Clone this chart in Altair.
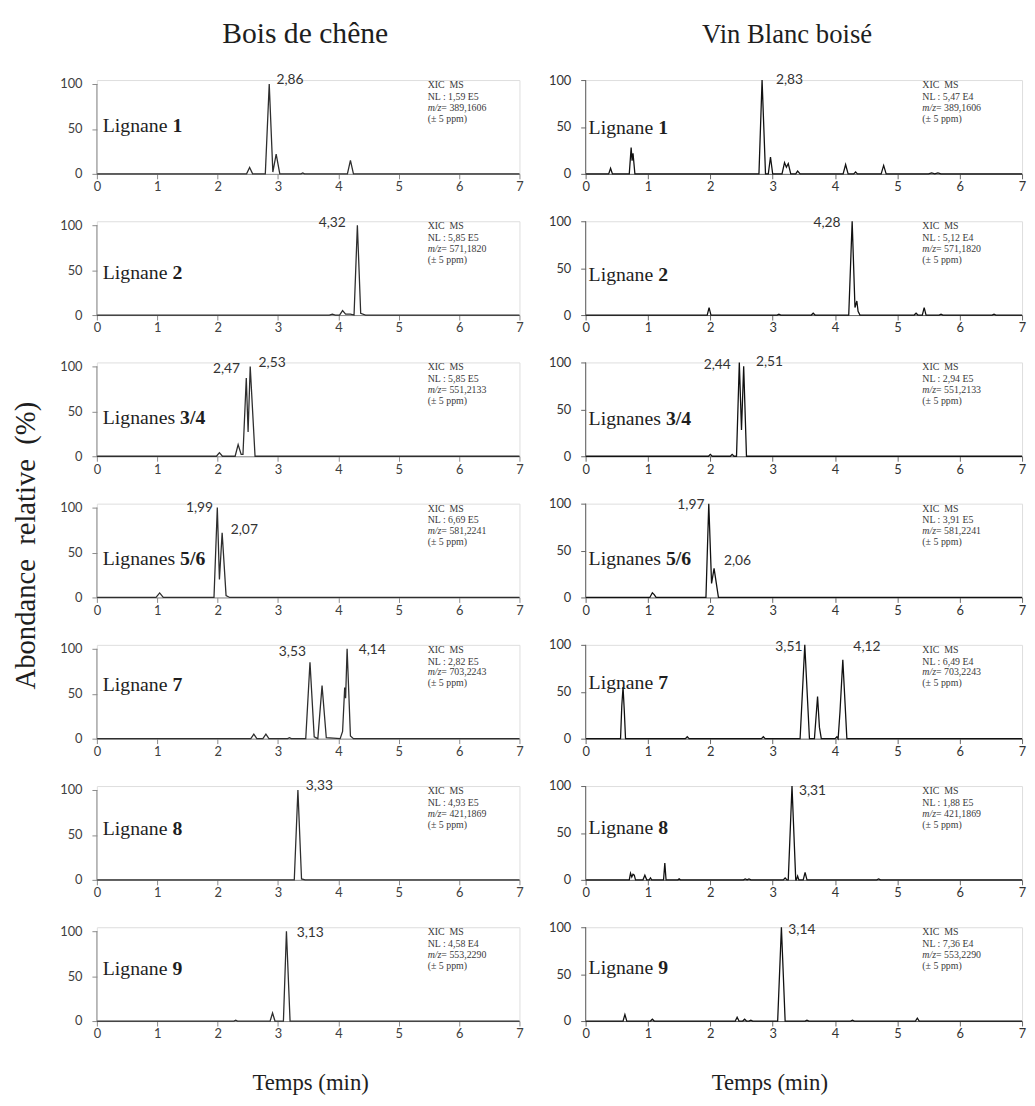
import altair as alt
import pandas as pd

# ---------------- data ----------------
x_ticks = [0, 1, 2, 3, 4, 5, 6, 7]
y_ticks = [0, 50, 100]

column_titles = ["Bois de chêne", "Vin Blanc boisé"]
y_title = "Abondance\u00a0 relative\u00a0 (%)"
x_title = "Temps (min)"

name_prefix = ["Lignane", "Lignane", "Lignanes", "Lignanes", "Lignane", "Lignane", "Lignane"]
name_number = ["1", "2", "3/4", "5/6", "7", "8", "9"]
mz_values = ["389,1606", "571,1820", "551,2133", "581,2241", "703,2243", "421,1869", "553,2290"]
nl_bois = ["1,59 E5", "5,85 E5", "5,85 E5", "6,69 E5", "2,82 E5", "4,93 E5", "4,58 E4"]
nl_vin = ["5,47 E4", "5,12 E4", "2,94 E5", "3,91 E5", "6,49 E4", "1,88 E5", "7,36 E4"]

peaks_bois = [["2,86"], ["4,32"], ["2,47", "2,53"], ["1,99", "2,07"], ["3,53", "4,14"], ["3,33"], ["3,13"]]
peaks_vin = [["2,83"], ["4,28"], ["2,44", "2,51"], ["1,97", "2,06"], ["3,51", "4,12"], ["3,31"], ["3,14"]]

# traces: (time in min, relative abundance in %)
bois_1 = [(0, 0), (2.48, 0), (2.53, 7), (2.58, 0), (2.79, 0), (2.855, 100), (2.915, 2), (2.97, 22), (3.03, 0),
          (3.38, 0), (3.41, 1), (3.44, 0), (4.15, 0), (4.2, 15), (4.25, 0), (7, 0)]
bois_2 = [(0, 0), (3.85, 0), (3.9, 1), (3.95, 0), (4.02, 0), (4.07, 5), (4.12, 1), (4.2, 1), (4.26, 0),
          (4.315, 100), (4.37, 2), (4.45, 0), (7, 0)]
bois_3 = [(0, 0), (1.98, 0), (2.03, 4), (2.08, 0), (2.29, 0), (2.34, 13), (2.39, 2), (2.42, 2), (2.475, 87),
          (2.505, 27), (2.54, 100), (2.62, 0), (7, 0)]
bois_4 = [(0, 0), (0.98, 0), (1.04, 5), (1.1, 0), (1.94, 0), (1.995, 100), (2.03, 20), (2.075, 72), (2.14, 2),
          (2.2, 0), (7, 0)]
bois_5 = [(0, 0), (2.55, 0), (2.6, 5), (2.65, 0), (2.75, 0), (2.8, 5), (2.85, 0), (3.16, 0), (3.19, 1), (3.22, 0),
          (3.46, 0), (3.53, 85), (3.6, 2), (3.66, 0), (3.73, 59), (3.8, 1), (4.03, 0), (4.07, 8), (4.105, 57),
          (4.12, 45), (4.145, 100), (4.2, 3), (4.25, 0), (7, 0)]
bois_6 = [(0, 0), (3.27, 0), (3.33, 100), (3.39, 1), (3.45, 0), (7, 0)]
bois_7 = [(0, 0), (2.27, 0), (2.3, 1), (2.33, 0), (2.87, 0), (2.91, 9), (2.95, 0), (3.09, 0), (3.14, 100),
          (3.2, 0), (7, 0)]

vin_1 = [(0, 0), (0.37, 0), (0.4, 6), (0.43, 0), (0.7, 0), (0.73, 28), (0.745, 14), (0.76, 22), (0.79, 0),
         (2.78, 0), (2.83, 100), (2.885, 0), (2.93, 0), (2.965, 18), (3.0, 0), (3.15, 0), (3.19, 12), (3.22, 7),
         (3.25, 11), (3.29, 0), (3.37, 0), (3.4, 3), (3.44, 0), (4.13, 0), (4.17, 10), (4.21, 0), (4.3, 0),
         (4.33, 2), (4.36, 0), (4.74, 0), (4.78, 9), (4.82, 0), (5.5, 0), (5.55, 1), (5.6, 0), (5.65, 1),
         (5.7, 0), (7, 0)]
vin_2 = [(0, 0), (1.95, 0), (1.98, 8), (2.01, 0), (3.07, 0), (3.1, 1), (3.13, 0), (3.62, 0), (3.65, 2), (3.68, 0),
         (4.22, 0), (4.275, 100), (4.32, 8), (4.35, 15), (4.37, 4), (4.4, 0), (5.27, 0), (5.3, 2), (5.33, 0),
         (5.4, 0), (5.43, 8), (5.46, 0), (5.67, 0), (5.7, 1), (5.73, 0), (6.52, 0), (6.55, 1), (6.58, 0), (7, 0)]
vin_3 = [(0, 0), (1.97, 0), (2.0, 2), (2.03, 0), (2.32, 0), (2.35, 2), (2.38, 0), (2.42, 0), (2.465, 100),
         (2.5, 28), (2.535, 96), (2.58, 0), (7, 0)]
vin_4 = [(0, 0), (1.03, 0), (1.07, 5), (1.1, 3), (1.13, 0), (1.93, 0), (1.975, 100), (2.02, 15), (2.06, 31),
         (2.13, 0), (7, 0)]
vin_5 = [(0, 0), (0.56, 0), (0.58, 35), (0.6, 55), (0.62, 30), (0.64, 0), (1.6, 0), (1.63, 2), (1.66, 0),
         (2.82, 0), (2.85, 2), (2.88, 0), (3.44, 0), (3.515, 100), (3.59, 0), (3.67, 0), (3.72, 45), (3.75, 12),
         (3.78, 0), (4.0, 0), (4.03, 2), (4.05, 0), (4.08, 29), (4.125, 84), (4.19, 0), (7, 0)]
vin_6 = [(0, 0), (0.7, 0), (0.72, 7), (0.74, 3), (0.76, 6), (0.78, 5), (0.8, 0), (0.92, 0), (0.95, 5), (0.98, 0),
         (1.02, 0), (1.04, 2), (1.06, 0), (1.25, 0), (1.27, 18), (1.29, 0), (1.48, 0), (1.5, 1), (1.52, 0),
         (2.53, 0), (2.56, 1), (2.59, 0), (2.62, 1), (2.65, 0), (3.17, 0), (3.2, 2), (3.23, 0), (3.25, 0),
         (3.31, 100), (3.37, 0), (3.38, 0), (3.4, 4), (3.42, 0), (3.49, 0), (3.52, 8), (3.55, 0), (4.67, 0),
         (4.7, 1), (4.73, 0), (7, 0)]
vin_7 = [(0, 0), (0.6, 0), (0.63, 7), (0.66, 0), (1.04, 0), (1.07, 2), (1.1, 0), (2.4, 0), (2.43, 4), (2.46, 0),
         (2.52, 0), (2.55, 2), (2.58, 0), (2.62, 0), (2.65, 1), (2.68, 0), (3.08, 0), (3.14, 100), (3.2, 0),
         (3.52, 0), (3.55, 1), (3.58, 0), (4.25, 0), (4.28, 1), (4.31, 0), (5.29, 0), (5.32, 3), (5.35, 0), (7, 0)]

traces = [[bois_1, bois_2, bois_3, bois_4, bois_5, bois_6, bois_7],
          [vin_1, vin_2, vin_3, vin_4, vin_5, vin_6, vin_7]]
peak_labels = [peaks_bois, peaks_vin]
nl_values = [nl_bois, nl_vin]

# ---------------- layout / style ----------------
label_h = [[[104], [102], [97, 104], [100, 75], [96, 99], [104], [98]],
           [[100], [98], [97, 100], [99, 39], [98, 98], [95], [97]]]
label_dx = [[[7], [-12], [-6, 9], [-4, 9], [-4, 12], [8], [11]],
            [[14], [-12], [-7, 14], [-4, 10], [-2, 11], [7], [7]]]
name_h = [[53, 47, 42, 43, 60, 56, 58], [49, 43, 40, 41, 59, 55, 57]]
name_x = [6, 3]
info_x = [335, 341]
info_y = [5, 17, 28, 39]

SERIF = "Liberation Serif"
SANS = "Lato"
NB = "\u00a0"
H = 95
W = [428, 442]
YMAX = [104.4, 100]
LINE_COLOR = ["#2e2e2e", "#111111"]
AXIS_COLOR = ["#8a8a8a", "#666666"]
TICKLAB_COLOR = ["#404040", "#333333"]
TEXT_COLOR = "#1e1e1e"
title_dx = [-3, -17]
title_fs = [30, 27]
xtitle_x = [216, 186]

FS_NAME = 20
FS_INFO = 10
REG = {"L": 611, "i": 278, "g": 500, "n": 500, "a": 444, "e": 444, "s": 389, " ": 250}


def text_width(s, fs):
    return sum(REG.get(c, 500) for c in s) * fs / 1000.0


one = pd.DataFrame({"k": [0]})


def text_layer(s, x, y, **kw):
    return alt.Chart(one).mark_text(text=s, align="left", baseline="middle", **kw).encode(
        x=alt.value(x), y=alt.value(y))


def panel(col, row):
    ymax = YMAX[col]
    xs = alt.Scale(domain=[0, 7], nice=False, zero=False)
    ys = alt.Scale(domain=[0, ymax], nice=False)
    xkw = dict(values=x_ticks, format="d", grid=False, labelFont=SANS, labelFontSize=13,
               labelColor=TICKLAB_COLOR[col], tickColor=AXIS_COLOR[col], domainColor=AXIS_COLOR[col],
               tickSize=5, labelPadding=2, labelFlush=False, labelOverlap=False)
    if row == 6:
        xkw.update(titleFont=SERIF, titleFontSize=23, titleFontWeight="normal", titleColor=TEXT_COLOR,
                   titleX=xtitle_x[col], titleY=51, titleAlign="center", titleBaseline="top")
    ykw = dict(values=y_ticks, domain=False, grid=False, labelFont=SANS, labelFontSize=13,
               labelColor=TICKLAB_COLOR[col], tickColor=AXIS_COLOR[col], tickSize=5, labelPadding=10,
               labelFlush=False)
    if col == 0 and row == 3:
        ykw.update(titleFont=SERIF, titleFontSize=29, titleFontWeight="normal", titleColor=TEXT_COLOR,
                   titleX=-72, titleY=42, titleAngle=270, titleAlign="center", titleBaseline="middle")
    xt = x_title if row == 6 else None
    yt = y_title if (col == 0 and row == 3) else None

    def ex():
        return alt.X("t:Q", scale=xs, axis=alt.Axis(**xkw), title=xt)

    def ey():
        return alt.Y("v:Q", scale=ys, axis=alt.Axis(**ykw), title=yt)

    df = pd.DataFrame(traces[col][row], columns=["t", "v"])
    layers = [alt.Chart(df).mark_line(color=LINE_COLOR[col], strokeWidth=1.3).encode(x=ex(), y=ey())]
    layers.append(alt.Chart(one).mark_rule(color=AXIS_COLOR[col], strokeWidth=1).encode(
        x=alt.value(0), y=alt.value(H - H * 100 / ymax), y2=alt.value(H)))
    for s, h, dx in zip(peak_labels[col][row], label_h[col][row], label_dx[col][row]):
        ldf = pd.DataFrame({"t": [float(s.replace(",", "."))], "v": [h], "s": [s]})
        layers.append(alt.Chart(ldf).mark_text(
            align="left" if dx > 0 else "right", baseline="middle", dx=dx, font=SANS, fontSize=14,
            color="#333333").encode(x=ex(), y=ey(), text="s:N"))
    # compound name
    ny = H - name_h[col][row] / ymax * H
    pre = name_prefix[row]
    layers.append(text_layer(pre, name_x[col], ny, font=SERIF, fontSize=FS_NAME, color=TEXT_COLOR))
    layers.append(text_layer(name_number[row], name_x[col] + text_width(pre + " ", FS_NAME), ny,
                             font=SERIF, fontSize=FS_NAME, fontWeight="bold", color=TEXT_COLOR))
    # acquisition info block
    ix = info_x[col]
    info_kw = dict(font=SERIF, fontSize=FS_INFO, color="#3a3a3a")
    layers.append(text_layer("XIC" + NB + NB + "MS", ix, info_y[0], **info_kw))
    layers.append(text_layer("NL : " + nl_values[col][row], ix, info_y[1], **info_kw))
    layers.append(text_layer("m/z", ix, info_y[2], fontStyle="italic", **info_kw))
    layers.append(text_layer(NB + "= " + mz_values[row], ix + 1.389 * FS_INFO, info_y[2], **info_kw))
    layers.append(text_layer("(± 5 ppm)", ix, info_y[3], **info_kw))

    ch = alt.layer(*layers).properties(width=W[col], height=H)
    if row == 0:
        ch = ch.properties(title=alt.TitleParams(
            column_titles[col], font=SERIF, fontSize=title_fs[col], fontWeight="normal", color=TEXT_COLOR,
            anchor="middle", dx=title_dx[col], offset=25))
    return ch


panels = [panel(c, r) for r in range(7) for c in range(2)]

chart = alt.ConcatChart(
    concat=panels, columns=2, spacing={"row": 48, "column": 67}, bounds="flush", align="each"
).properties(
    padding={"left": 3, "top": 3, "right": 0, "bottom": 0}
).configure_view(stroke=None).configure(background="white")

chart.save("out.html", embed_options={"renderer": "svg", "actions": False})
